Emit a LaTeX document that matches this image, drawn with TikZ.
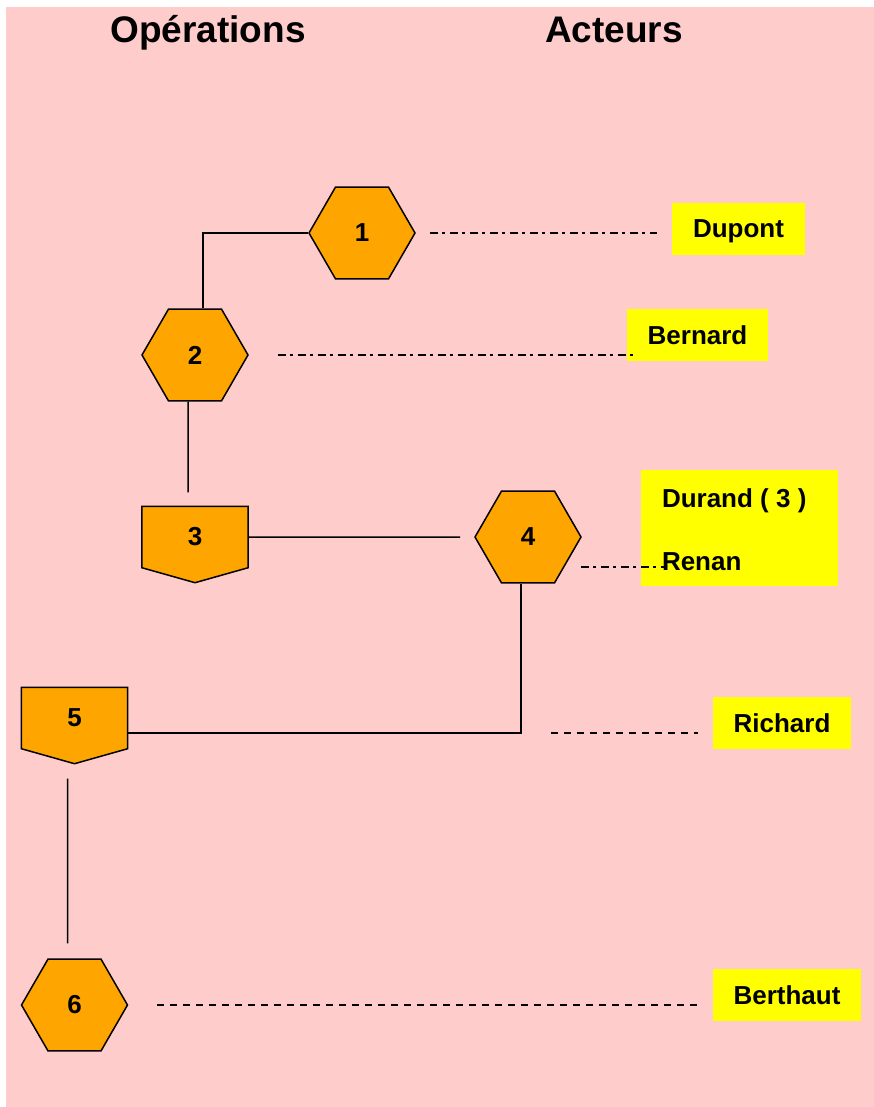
\documentclass[tikz,border=0pt]{standalone}
\usepackage{fontspec}
\setmainfont{Liberation Sans}
\usetikzlibrary{shapes.geometric, backgrounds}
\definecolor{sheetpink}{RGB}{255,204,204}
\definecolor{oporange}{RGB}{255,165,0}
\definecolor{actoryellow}{RGB}{255,255,0}
\tikzset{
  operation/.style = {regular polygon, regular polygon sides=6, minimum size=106pt,
                      inner sep=0pt, draw, line width=1.5pt, fill=oporange},
  handover/.style = {rectangle, minimum width=106pt, minimum height=61pt, inner sep=0pt},
  handover border/.style = {draw, line width=1.5pt, fill=oporange},
  actor/.style = {rectangle, fill=actoryellow, inner sep=0pt, minimum height=52pt,
                  text depth=0pt},
  actor text/.style = {inner sep=0pt, anchor=west, text depth=0pt},
  heading/.style = {font=\bfseries\fontsize{37}{44}\selectfont, anchor=base},
  link/.style = {line width=1.5pt},
  duty/.style = {line width=1.5pt, dash pattern=on 8pt off 4.5pt on 3pt off 4.5pt},
  backup/.style = {line width=1.5pt, dash pattern=on 7pt off 6pt},
}

\begin{document}
\begin{tikzpicture}[x=1pt, y=1pt, font=\bfseries\fontsize{26}{31}\selectfont]
  \useasboundingbox (0,0) rectangle (874,-1107);
  \begin{scope}[on background layer]
    \fill [sheetpink] (6,-7) rectangle (884,-1117);
  \end{scope}

  % Column titles
  \node (ops) [heading] at (208,-43) {Opérations};
  \node (acts) [heading] at (614,-43) {Acteurs};

  % Operations
  \node (op1) [operation] at (362,-233) {1};
  \node (op2) [operation] at (195,-355) {2};
  \node (op3) [handover] at (195,-537) {3};
  \node (op4) [operation] at (528,-537) {4};
  \node (op5) [handover] at (74.5,-718) {5};
  \node (op6) [operation] at (74.5,-1005) {6};

  % Handover shapes sit behind their numbers
  \begin{scope}[on background layer]
    \foreach \h in {op3, op5}{
      \draw [handover border] (\h.north west) -- (\h.north east)
        -- (\h.south east) -- ([yshift=-15pt]\h.south)
        -- (\h.south west) -- cycle;
    }
  \end{scope}

  % Actors
  \node (dupont) [actor, minimum width=133pt] at (738.5,-229) {Dupont};
  \node (bernard) [actor, minimum width=141pt] at (697.5,-335) {Bernard};
  \node (durand) [actor, minimum width=197pt, minimum height=116pt]
    at (739.5,-528) {};
  \node (durand3) [actor text] at ([shift={(21pt,-28pt)}]durand.north west)
    {Durand ( 3 )};
  \node (renan) [actor text] at ([shift={(21pt,-92pt)}]durand.north west)
    {Renan};
  \node (richard) [actor, minimum width=138pt] at (782,-723) {Richard};
  \node (berthaut) [actor, minimum width=148pt] at (787,-995) {Berthaut};

  % Flow between the operations
  \draw [link] (op1.west) -| ([xshift=8pt]op2.north);
  \draw [link] ([xshift=-7pt]op2.south) -- ([xshift=-7pt, yshift=14pt]op3.north);
  \draw [link] (op3.east) -- ([xshift=-14pt]op4.west);
  \draw [link] ([xshift=-7pt]op4.south) |- ([yshift=-15pt]op5.east);
  \draw [link] ([xshift=-7pt, yshift=-30pt]op5.south)
    -- ([xshift=-7pt, yshift=15pt]op6.north);

  % Who does what
  \draw [duty] ([xshift=14pt]op1.east) -- ([xshift=-15pt]op1.east -| dupont.west);
  \draw [duty] ([xshift=29pt]op2.east) -- ([xshift=10pt]op2.east -| bernard.west);
  \draw [duty] ([shift={(-1pt,-30pt)}]op4.east) coordinate (r0)
    -- ([xshift=5pt]renan.west |- r0);
  \draw [backup] ([shift={(-162pt,-10pt)}]richard.west)
    -- ([shift={(-15pt,-10pt)}]richard.west);
  \draw [backup] ([xshift=29pt]op6.east) -- ([xshift=-16pt]op6.east -| berthaut.west);
\end{tikzpicture}
\end{document}
